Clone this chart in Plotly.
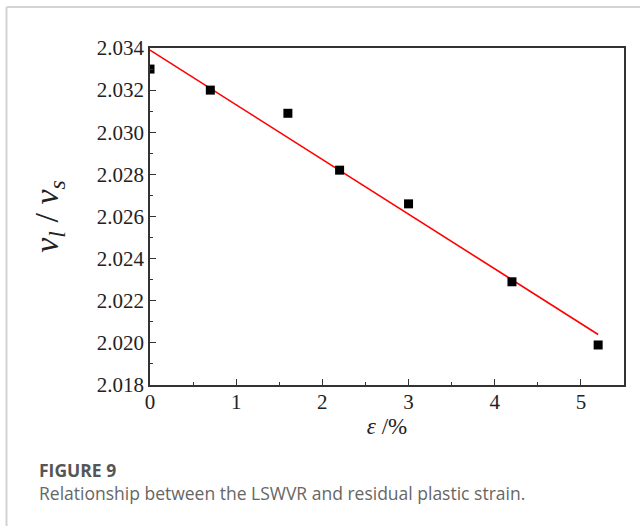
import plotly.graph_objects as go

# ---- data ----
strain = [0, 0.7, 1.6, 2.2, 3.0, 4.2, 5.2]
ratio = [2.0330, 2.0320, 2.0309, 2.0282, 2.0266, 2.0229, 2.0199]
fit_x = [0, 5.2]
fit_y = [2.0339, 2.0204]
x_ticks = [0, 1, 2, 3, 4, 5]
y_ticks = [2.018, 2.020, 2.022, 2.024, 2.026, 2.028, 2.030, 2.032, 2.034]

W, H = 640, 526
L, T, R, B = 150, 48, 624, 385
SERIF = "Liberation Serif, Times New Roman, Times, serif"


def px(x):
    return (x - L) / (R - L)


def py(y):
    return (B - y) / (B - T)


fig = go.Figure()
fig.add_trace(go.Scatter(x=fit_x, y=fit_y, mode="lines",
                         line=dict(color="#ff0000", width=1.6),
                         showlegend=False, hoverinfo="skip"))
fig.add_trace(go.Scatter(x=strain, y=ratio, mode="markers",
                         marker=dict(symbol="square", size=9, color="black"),
                         showlegend=False))

tickfont = dict(family=SERIF, size=21, color="#222")
fig.update_xaxes(range=[0, 5.5], tickvals=x_ticks, ticktext=[str(v) for v in x_ticks],
                 ticks="inside", ticklen=6, tickwidth=1.3, tickcolor="#333",
                 minor=dict(dtick=0.5, ticks="inside", ticklen=3, tickwidth=1.3, tickcolor="#333"),
                 showline=True, linecolor="#333", linewidth=1.6, mirror=True,
                 showgrid=False, zeroline=False, tickfont=tickfont, ticklabelstandoff=-3,
                 title=dict(text="<i>ε</i> /%", font=dict(family=SERIF, size=23, color="#222"),
                            standoff=3))
fig.update_yaxes(range=[2.018, 2.034], tickvals=y_ticks, ticktext=[f"{v:.3f}" for v in y_ticks],
                 ticks="inside", ticklen=6, tickwidth=1.3, tickcolor="#333",
                 minor=dict(dtick=0.001, ticks="inside", ticklen=3, tickwidth=1.3, tickcolor="#333"),
                 showline=True, linecolor="#333", linewidth=1.6, mirror=True,
                 showgrid=False, zeroline=False, tickfont=tickfont,
                 title=dict(text="<i>v</i><sub><i>l</i></sub> / <i>v</i><sub><i>s</i></sub>",
                            font=dict(family=SERIF, size=34, color="#222"),
                            standoff=28))

shapes = [
    dict(type="line", xref="paper", yref="paper", x0=px(6.5), x1=px(700), y0=py(7), y1=py(7),
         line=dict(color="#d3d3d3", width=2)),
    dict(type="line", xref="paper", yref="paper", x0=px(6.5), x1=px(6.5), y0=py(7), y1=py(600),
         line=dict(color="#d3d3d3", width=2)),
]

annotations = [
    dict(text="<span style='color:#555'><b>FIGURE 9</b></span><br>"
              "Relationship between the LSWVR and residual plastic strain.",
         xref="paper", yref="paper", x=px(37), y=py(481), align="left",
         xanchor="left", yanchor="middle", showarrow=False,
         font=dict(family="Open Sans", size=17.5, color="#666")),
]

fig.update_layout(width=W, height=H, margin=dict(l=L, t=T, r=W - R, b=H - B),
                  paper_bgcolor="white", plot_bgcolor="white",
                  shapes=shapes, annotations=annotations)

fig.write_html("out.html")
